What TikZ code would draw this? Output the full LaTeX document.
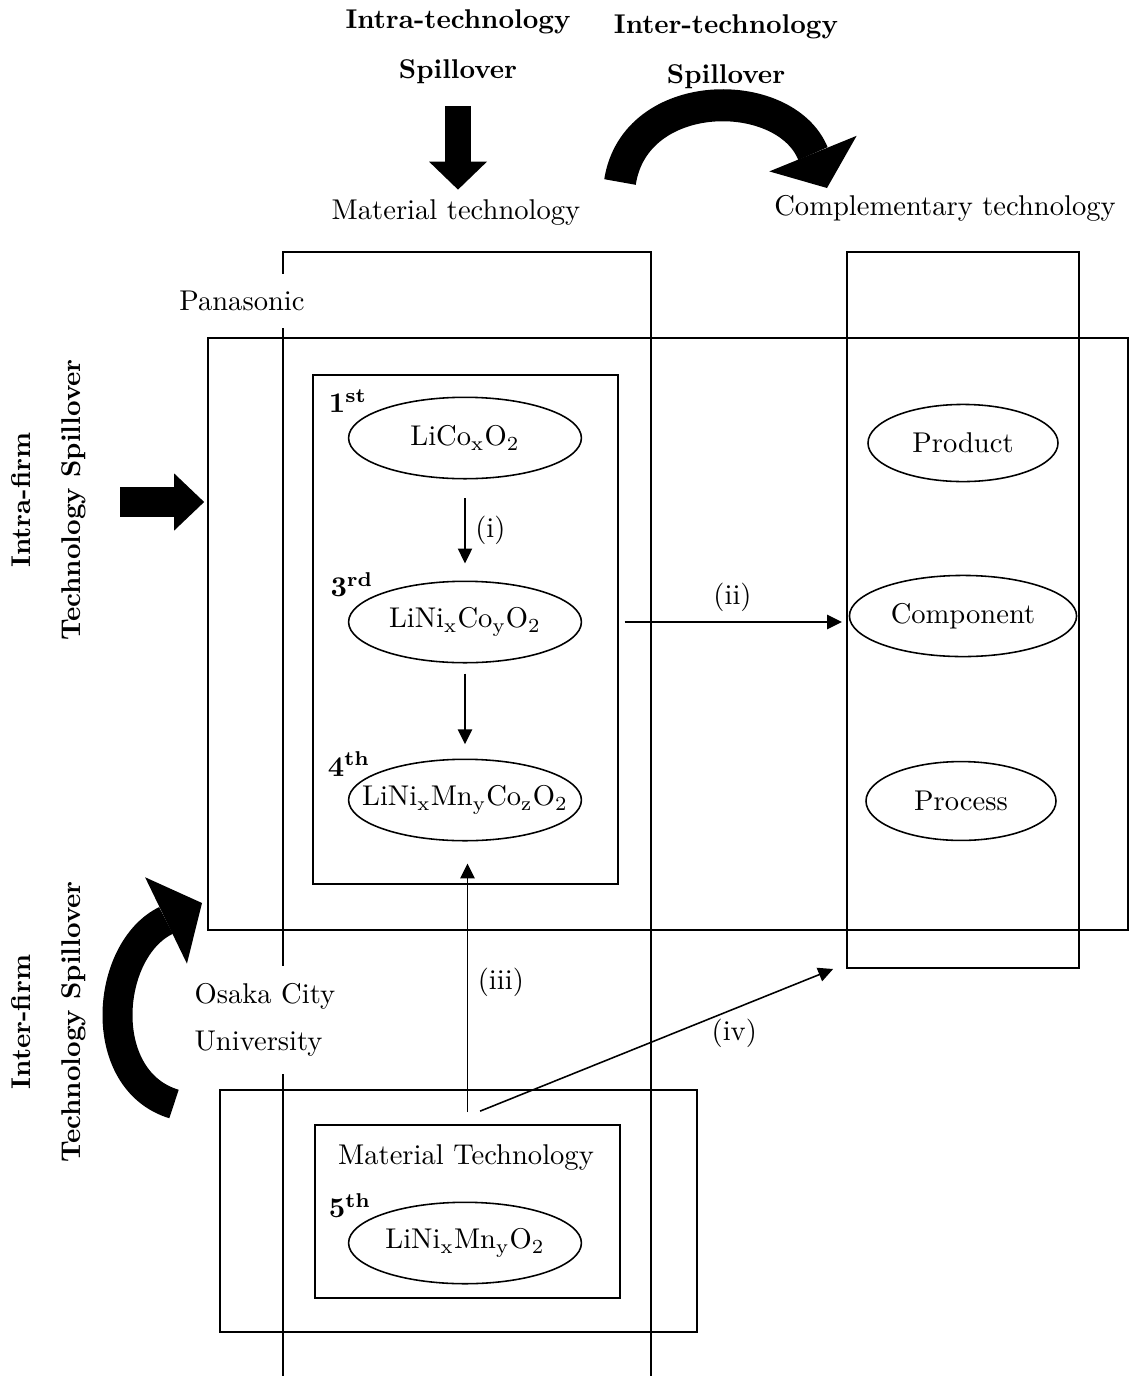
\documentclass[tikz,border=0pt]{standalone}
\usepackage{tikz}
\usetikzlibrary{arrows.meta, shapes.geometric}

\begin{document}
\begin{tikzpicture}[x=0.35pt, y=-0.35pt, line width=0.7pt,
  frame/.style={draw, rectangle, inner sep=0pt},
  oval/.style={draw, ellipse, line width=0.55pt, inner ysep=0pt, inner xsep=-8pt},
  chem/.style={oval, minimum width=81.5pt, minimum height=28.5pt},
  ord/.style={font=\bfseries, inner sep=1pt},
  spill/.style={align=center, font=\fontsize{9.5}{17.5}\selectfont\bfseries},
  cover/.style={fill=white, inner ysep=6pt},
  link/.style={line width=0.55pt, -{Triangle[length=5.2pt, width=5pt]}}]
\useasboundingbox (0,0) rectangle (1130,1376);
\node[spill] (intratech) at (458,47) {Intra-technology\\Spillover};
\node[spill] (intertech) at (726,52) {Inter-technology\\Spillover};
\node (mattech) at (456,213) {Material technology};
\node (comptech) at (945,208) {Complementary technology};
\node[spill, rotate=90] (intrafirm) at (49,500) {Intra-firm\\Technology Spillover};
\node[spill, rotate=90] (interfirm) at (49,1022) {Inter-firm\\Technology Spillover};
\draw (283,1376) |- (651,252) -- (651,1376);
\node[frame, minimum width=81.2pt, minimum height=250.6pt] (compcol) at (963,610) {};
\node[frame, minimum width=322pt, minimum height=207.2pt] (panabox) at (668,634) {};
\node[frame, minimum width=106.75pt, minimum height=178.15pt] (matbox) at (465.5,629.5) {};
\node[frame, minimum width=166.95pt, minimum height=84.7pt] (uniout) at (458.5,1211) {};
\node[frame, minimum width=106.75pt, minimum height=60.55pt] (unibox) at (467.5,1211.5) {};
\node[cover] (pana) at (242,301) {Panasonic};
\node[cover, align=left, anchor=west, font=\fontsize{10}{16.5}\selectfont] (ocu) at (184,1020) {Osaka City\\University};
\node[chem] (c1) at (465,438) {LiCo\textsubscript{x}O\textsubscript{2}};
\node[chem] (c3) at (465,622) {LiNi\textsubscript{x}Co\textsubscript{y}O\textsubscript{2}};
\node[chem] (c4) at (465,800) {LiNi\textsubscript{x}Mn\textsubscript{y}Co\textsubscript{z}O\textsubscript{2}};
\node (unitech) at (466,1158) {Material Technology};
\node[chem] (c5) at (465,1243) {LiNi\textsubscript{x}Mn\textsubscript{y}O\textsubscript{2}};
\node[ord] (o1) at (348,401) {1\textsuperscript{st}};
\node[ord] (o3) at (352,585) {3\textsuperscript{rd}};
\node[ord] (o4) at (349,764) {4\textsuperscript{th}};
\node[ord] (o5) at (350,1206) {5\textsuperscript{th}};
\node[oval, minimum width=66.5pt, minimum height=27pt] (prod) at (963,443) {Product};
\node[oval, minimum width=79.5pt, minimum height=28.4pt] (comp) at (963,616) {Component};
\node[oval, minimum width=66.5pt, minimum height=27.6pt] (proc) at (961,801) {Process};
\draw[link, shorten <=6.5pt, shorten >=6pt] (c1) -- node[right] {(i)} (c3);
\draw[link, shorten <=3.5pt, shorten >=5pt] (c3) -- (c4);
\draw[link, shorten <=2pt, shorten >=1.4pt] (matbox.east |- c3) -- node[above] {(ii)} (compcol.west |- c3);
\draw[link, shorten <=4.2pt, shorten >=7.7pt] (unibox.north) -- node[right] {(iii)} (unibox.north |- c4.south);
\draw[link] ([xshift=4.4pt, yshift=4.5pt]unibox.north) -- node[pos=0.72, below] {(iv)} ([xshift=-4.5pt]compcol.south west);
\draw[line width=9pt, -{Triangle[length=9.8pt, width=20.3pt, line width=0pt]}] ([yshift=-4pt]intratech.south) -- (intratech.south |- mattech.north);
\coordinate (techbendA) at (620,182);
\coordinate (techbendB) at (827,188);
\draw[line width=11.2pt, -{Triangle[length=13pt, width=33pt, line width=0pt]}] (techbendA) .. controls (635,85) and (785,85) .. (techbendB);
\coordinate (firmA) at (120,502);
\draw[line width=10.5pt, shorten >=1pt, -{Triangle[length=10.5pt, width=20pt, line width=0pt]}] (firmA) -- (firmA -| panabox.west);
\coordinate (firmB) at (174,1104);
\coordinate (firmC) at (202,903);
\draw[line width=10.5pt, -{Triangle[length=14pt, width=33.6pt, line width=0pt]}] (firmB) .. controls (95,1080) and (105,950) .. (firmC);
\end{tikzpicture}
\end{document}
